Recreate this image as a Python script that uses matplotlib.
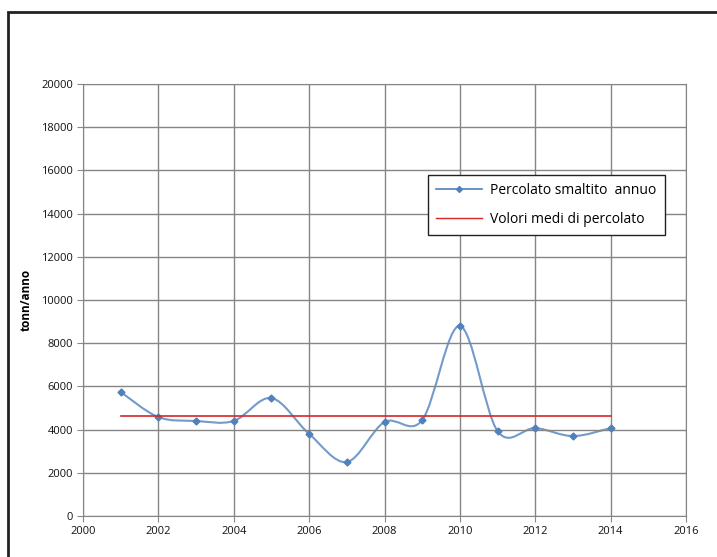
import matplotlib.pyplot as plt
from matplotlib.path import Path
from matplotlib.patches import PathPatch, Rectangle
from matplotlib.lines import Line2D

# annual percolate disposed (tonn/anno)
years = [2001, 2002, 2003, 2004, 2005, 2006, 2007, 2008, 2009, 2010, 2011, 2012, 2013, 2014]
percolato = [5740, 4580, 4400, 4400, 5460, 3800, 2500, 4350, 4440, 8800, 3930, 4070, 3700, 4070]
media = 4650

x_ticks = list(range(2000, 2017, 2))
y_ticks = list(range(0, 20001, 2000))

blue = "#4f81bd"
red = "#d62728"


def smooth_path(xs, ys):
    # cubic bezier segments through every point, like a spreadsheet "smoothed line"
    verts = [(xs[0], ys[0])]
    codes = [Path.MOVETO]
    n = len(xs)
    for i in range(n - 1):
        x0, y0 = (xs[i - 1], ys[i - 1]) if i > 0 else (xs[i], ys[i])
        x3, y3 = (xs[i + 2], ys[i + 2]) if i + 2 < n else (xs[i + 1], ys[i + 1])
        c1 = (xs[i] + (xs[i + 1] - x0) / 6, ys[i] + (ys[i + 1] - y0) / 6)
        c2 = (xs[i + 1] - (x3 - xs[i]) / 6, ys[i + 1] - (y3 - ys[i]) / 6)
        verts += [c1, c2, (xs[i + 1], ys[i + 1])]
        codes += [Path.CURVE4] * 3
    return Path(verts, codes)


plt.rcParams["font.family"] = ["Open Sans", "DejaVu Sans"]

fig = plt.figure(figsize=(7.17, 5.57), dpi=100)
ax = fig.add_axes([83 / 717, 1 - 516 / 557, 603 / 717, 432 / 557])

# chart border
fig.patches.append(Rectangle((8 / 717, -0.05), 1.1, 1 - 12 / 557 + 0.05,
                             transform=fig.transFigure, fill=False,
                             edgecolor="#222222", linewidth=2))

ax.add_patch(PathPatch(smooth_path(years, percolato), fill=False,
                       edgecolor=blue, linewidth=1.5, alpha=0.8))
ax.plot(years, percolato, linestyle="none", marker="D", markersize=3.5, color=blue)
ax.plot([years[0], years[-1]], [media, media], color=red, linewidth=1.2)

ax.set_xlim(2000, 2016)
ax.set_ylim(0, 20000)
ax.set_xticks(x_ticks)
ax.set_yticks(y_ticks)
ax.tick_params(labelsize=8, length=4, color="#888888", pad=3, labelcolor="#111111")
ax.grid(True, color="#858585", linewidth=1)
for s in ax.spines.values():
    s.set_color("#858585")
ax.set_ylabel("tonn/anno", fontsize=8.5, fontweight="bold", labelpad=6)

handles = [Line2D([], [], color=blue, marker="D", markersize=3, linewidth=1.2),
           Line2D([], [], color=red, linewidth=1)]
leg = ax.legend(handles, ["Percolato smaltito  annuo", "Volori medi di percolato"],
                loc="upper left", bbox_to_anchor=(0.572, 0.79), fontsize=10,
                frameon=True, fancybox=False, framealpha=1, borderpad=0.6,
                labelspacing=1.0, handlelength=3.3, handletextpad=0.6,
                borderaxespad=0)
leg.get_frame().set_edgecolor("#222222")
leg.get_frame().set_linewidth(1)

fig.savefig("out.png", dpi=100)
